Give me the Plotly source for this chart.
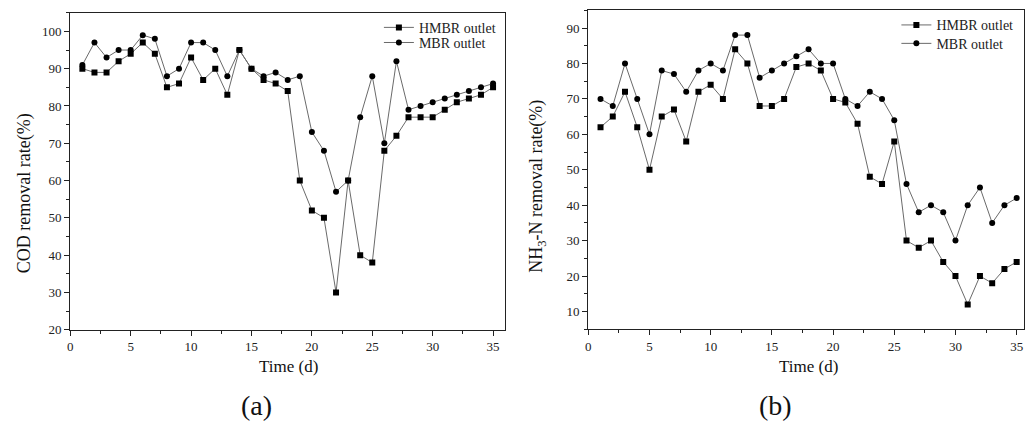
import plotly.graph_objects as go

days = list(range(1, 36))

# Panel (a): COD removal rate (%)
cod_hmbr = [90, 89, 89, 92, 94, 97, 94, 85, 86, 93, 87, 90, 83, 95, 90, 87, 86, 84,
            60, 52, 50, 30, 60, 40, 38, 68, 72, 77, 77, 77, 79, 81, 82, 83, 85]
cod_mbr = [91, 97, 93, 95, 95, 99, 98, 88, 90, 97, 97, 95, 88, 95, 90, 88, 89, 87,
           88, 73, 68, 57, 60, 77, 88, 70, 92, 79, 80, 81, 82, 83, 84, 85, 86]

# Panel (b): NH3-N removal rate (%)
nh3_hmbr = [62, 65, 72, 62, 50, 65, 67, 58, 72, 74, 70, 84, 80, 68, 68, 70, 79, 80,
            78, 70, 69, 63, 48, 46, 58, 30, 28, 30, 24, 20, 12, 20, 18, 22, 24]
nh3_mbr = [70, 68, 80, 70, 60, 78, 77, 72, 78, 80, 78, 88, 88, 76, 78, 80, 82, 84,
           80, 80, 70, 68, 72, 70, 64, 46, 38, 40, 38, 30, 40, 45, 35, 40, 42]

series_names = ["HMBR outlet", "MBR outlet"]

W, H = 1026, 427
FONT = "Liberation Serif, Times New Roman, serif"
LINE_COLOR = "#6a6a6a"
AX_COLOR = "#222222"

def px_x(p):
    return p / W

def px_y(p):
    return 1 - p / H

fig = go.Figure()

def add_pair(xa, ya, legends, h, m):
    fig.add_trace(go.Scatter(
        x=days, y=h, name=series_names[0], mode="lines+markers",
        xaxis=xa, yaxis=ya, legend=legends[0],
        line=dict(color=LINE_COLOR, width=1),
        marker=dict(symbol="square", size=6, color="black"),
    ))
    fig.add_trace(go.Scatter(
        x=days, y=m, name=series_names[1], mode="lines+markers",
        xaxis=xa, yaxis=ya, legend=legends[1],
        line=dict(color=LINE_COLOR, width=1),
        marker=dict(symbol="circle", size=6, color="black"),
    ))

add_pair("x", "y", ("legend", "legend2"), cod_hmbr, cod_mbr)
add_pair("x2", "y2", ("legend3", "legend4"), nh3_hmbr, nh3_mbr)

axis_common = dict(
    showline=True, linecolor=AX_COLOR, linewidth=1.3, mirror=True,
    ticks="outside", ticklen=5, tickwidth=1.2, tickcolor=AX_COLOR,
    showgrid=False, zeroline=False,
    tickfont=dict(family=FONT, size=13, color="#222222"),
)

def legend_at(xp, yp):
    return dict(x=px_x(xp), y=px_y(yp), xanchor="left", yanchor="top",
                bgcolor="rgba(0,0,0,0)", font=dict(family=FONT, size=14, color="#222222"),
                tracegroupgap=0)

fig.update_layout(
    width=W, height=H,
    margin=dict(l=0, r=0, t=0, b=0),
    paper_bgcolor="white", plot_bgcolor="white",
    font=dict(family=FONT, color="#222222"),
    xaxis=dict(domain=[px_x(67.5), px_x(503)], range=[0, 35.95], anchor="y",
               tick0=0, dtick=5,
               minor=dict(dtick=2.5, ticks="outside", ticklen=3, tickcolor=AX_COLOR),
               **axis_common),
    yaxis=dict(domain=[px_y(336), px_y(13)], range=[20, 105], anchor="x",
               tick0=20, dtick=10,
               minor=dict(dtick=5, ticks="outside", ticklen=3, tickcolor=AX_COLOR),
               **axis_common),
    xaxis2=dict(domain=[px_x(587), px_x(1024)], range=[0, 35.6], anchor="y2",
                tick0=0, dtick=5,
                minor=dict(dtick=2.5, ticks="outside", ticklen=3, tickcolor=AX_COLOR),
                **axis_common),
    yaxis2=dict(domain=[px_y(335.5), px_y(10.5)], range=[5, 95], anchor="x2",
                tick0=10, dtick=10,
                minor=dict(dtick=5, ticks="outside", ticklen=3, tickcolor=AX_COLOR),
                **axis_common),
    legend=legend_at(377, 12),
    legend2=legend_at(377, 27.4),
    legend3=legend_at(896, 9.5),
    legend4=legend_at(896, 28.3),
    showlegend=True,
)

annots = [
    dict(text="COD removal rate(%)", x=px_x(21), y=px_y(197), textangle=-90, size=18),
    dict(text="NH<sub>3</sub>-N removal rate(%)", x=px_x(536), y=px_y(190), textangle=-90, size=18),
    dict(text="Time (d)", x=px_x(286), y=px_y(373), textangle=0, size=17),
    dict(text="Time (d)", x=px_x(808), y=px_y(373), textangle=0, size=17),
    dict(text="(a)", x=px_x(254), y=px_y(413), textangle=0, size=28),
    dict(text="(b)", x=px_x(775), y=px_y(413), textangle=0, size=28),
]
for a in annots:
    fig.add_annotation(
        text=a["text"], x=a["x"], y=a["y"], xref="paper", yref="paper",
        xanchor="center", yanchor="middle", showarrow=False, textangle=a["textangle"],
        font=dict(family=FONT, size=a["size"], color="#111111"),
    )

fig.write_html(
    "out.html",
    config={"displayModeBar": False},
    post_script="document.body.style.margin='0';document.body.style.overflow='hidden';",
)
